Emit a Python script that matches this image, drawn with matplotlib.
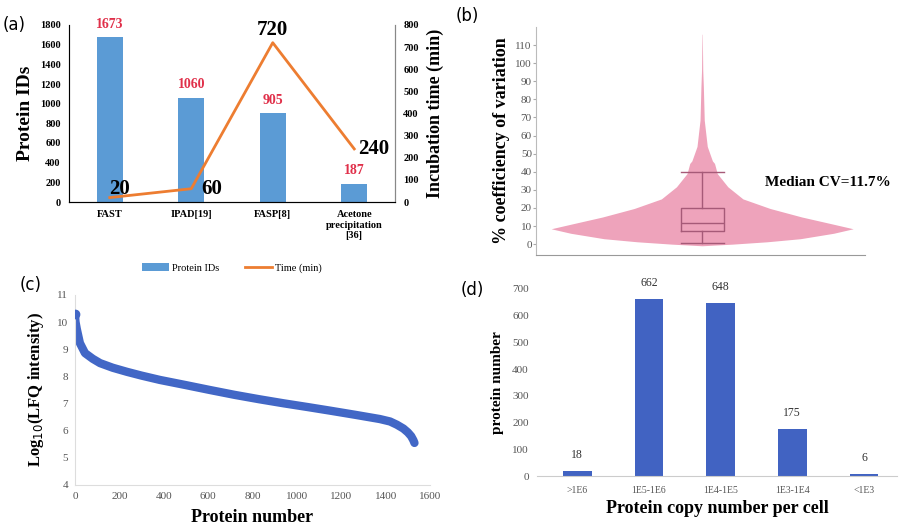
import numpy as np
from matplotlib import pyplot as plt

plt.rcParams['font.family'] = ['Liberation Serif', 'DejaVu Serif']

# (a) sample preparation methods
methods = ['FAST', 'IPAD[19]', 'FASP[8]', 'Acetone\nprecipitation\n[36]']
protein_ids = [1673, 1060, 905, 187]
incubation_min = [20, 60, 720, 240]

# (b) CV violin: density profile (relative half-width)
cv_levels = [-0.9, 0, 1.3, 3, 6, 8.5, 11, 15, 19.7, 25, 31.7, 39, 44.6, 46, 54, 68.5, 87, 96, 116]
cv_density = [0, 0.2, 0.43, 0.65, 0.87, 1.0, 0.87, 0.66, 0.45, 0.27, 0.17, 0.10, 0.082,
              0.068, 0.034, 0.014, 0.008, 0.004, 0.001]
cv_box = dict(q1=7, med=11.7, q3=20, whislo=0.5, whishi=40)

# (c) ranked LFQ intensities
rank = [0, 2, 8, 22, 45, 80, 113, 170, 234, 300, 383, 500, 608, 720, 830, 940, 1050,
        1149, 1260, 1374, 1420, 1451, 1480, 1500, 1515, 1525, 1530]
log_lfq = [10.30, 10.02, 9.75, 9.23, 8.86, 8.65, 8.49, 8.32, 8.17, 8.03, 7.87, 7.68, 7.50,
           7.32, 7.16, 7.01, 6.87, 6.74, 6.59, 6.43, 6.34, 6.22, 6.08, 5.94, 5.80, 5.65, 5.55]

# (d) copy number bins
copy_bins = ['>1E6', '1E5-1E6', '1E4-1E5', '1E3-1E4', '<1E3']
copy_counts = [18, 662, 648, 175, 6]

W, H = 904, 529
fig = plt.figure(figsize=(W / 100, H / 100), dpi=100)

bar_blue = '#5b9bd5'
line_orange = '#ed7d31'
grey = '#555555'

# ---------- (a) ----------
ax = fig.add_axes([69 / W, 1 - 202 / H, 326 / W, 177 / H])
x = np.arange(len(methods))
ax.bar(x, protein_ids, width=0.32, color=bar_blue, label='Protein IDs', zorder=2)
for xi, v in zip(x, protein_ids):
    ax.annotate(str(v), (xi, v), xytext=(0, 13), textcoords='offset pixels',
                ha='center', va='center', color='#e0304a', fontsize=10, fontweight='bold')
ax.set_xlim(-0.5, 3.5)
ax.set_ylim(0, 1800)
ax.set_yticks(range(0, 1801, 200))
ax.set_xticks(x)
ax.set_xticklabels(methods, fontsize=7.5, fontweight='bold', linespacing=1.2)
ax.tick_params(axis='y', labelsize=7.5, length=0, pad=6)
ax.tick_params(axis='x', length=0, pad=6)
for lab in ax.get_yticklabels():
    lab.set_fontweight('bold')
ax.set_ylabel('Protein IDs', fontsize=14, fontweight='bold', labelpad=4)
ax.spines['top'].set_visible(False)
for s in ['left', 'right']:
    ax.spines[s].set_color('#888888')
ax.spines['bottom'].set_color('#444444')

ax2 = ax.twinx()
ax2.plot(x, incubation_min, color=line_orange, lw=2, label='Time (min)', zorder=3)
ax2.set_ylim(0, 800)
ax2.set_yticks(range(0, 801, 100))
ax2.tick_params(axis='y', labelsize=7.5, length=0, pad=6)
for lab in ax2.get_yticklabels():
    lab.set_fontweight('bold')
ax2.set_ylabel('Incubation time (min)', fontsize=13, fontweight='bold', labelpad=6)
ax2.spines['top'].set_visible(False)
ax2.spines['right'].set_color('#888888')
line_offsets = [(10, 9, 'center'), (10, 0, 'left'), (0, 13, 'center'), (4, 0, 'left')]
for xi, v, (dx, dy, ha) in zip(x, incubation_min, line_offsets):
    ax2.annotate(str(v), (xi, v), xytext=(dx, dy), textcoords='offset pixels',
                 ha=ha, va='center', fontsize=15, fontweight='bold', color='black')

h1, l1 = ax.get_legend_handles_labels()
h2, l2 = ax2.get_legend_handles_labels()
fig.legend(h1 + h2, l1 + l2, loc='center', bbox_to_anchor=(232 / W, 1 - 268 / H),
           ncol=2, frameon=False, fontsize=7.5, handlelength=2.6, columnspacing=2.5,
           handletextpad=0.3)
fig.text(3 / W, 1 - 25 / H, '(a)', fontsize=12, family='DejaVu Sans', va='center')

# ---------- (b) ----------
axb = fig.add_axes([536 / W, 1 - 255 / H, 329 / W, 228 / H])
hw = np.array(cv_density) * 0.459
axb.fill_betweenx(cv_levels, -hw, hw, color='#eea3bb', lw=0, zorder=1)
axb.bxp([dict(cv_box, fliers=[])], positions=[0], widths=0.13, capwidths=0.13,
        showfliers=False, patch_artist=False,
        boxprops=dict(color='#a65a78', lw=1),
        medianprops=dict(color='#a65a78', lw=1),
        whiskerprops=dict(color='#a65a78', lw=1),
        capprops=dict(color='#a65a78', lw=1), zorder=3)
axb.set_xlim(-0.505, 0.495)
axb.set_ylim(-6, 120)
axb.set_yticks(range(0, 111, 10))
axb.set_xticks([])
axb.tick_params(axis='y', labelsize=8, labelcolor=grey, length=2, color='#aaaaaa', pad=1)
for s in ['top', 'right']:
    axb.spines[s].set_visible(False)
axb.spines['left'].set_color('#bbbbbb')
axb.spines['bottom'].set_color('#999999')
axb.set_ylabel('% coefficiency of variation', fontsize=13, fontweight='bold', labelpad=4)
axb.text(0.19, 34, 'Median CV=11.7%', fontsize=11, fontweight='bold',
         va='center', ha='left')
fig.text(456 / W, 1 - 16 / H, '(b)', fontsize=12, family='DejaVu Sans', va='center')

# ---------- (c) ----------
axc = fig.add_axes([75 / W, 1 - 485 / H, 355 / W, 190 / H])
axc.plot(rank, log_lfq, color='#4267c6', lw=6, solid_capstyle='round',
         solid_joinstyle='round', zorder=2)
axc.plot(rank[0], log_lfq[0], 'o', color='#4267c6', ms=6, zorder=3)
axc.set_xlim(0, 1600)
axc.set_ylim(4, 11)
axc.set_xticks(range(0, 1601, 200))
axc.set_yticks(range(4, 12))
axc.tick_params(labelsize=8, labelcolor=grey, length=0, pad=5)
for s in ['top', 'right']:
    axc.spines[s].set_visible(False)
axc.spines['left'].set_color('#dddddd')
axc.spines['bottom'].set_color('#dddddd')
axc.set_ylabel('Log$_{10}$(LFQ intensity)', fontsize=12, fontweight='bold', labelpad=8)
axc.set_xlabel('Protein number', fontsize=13, fontweight='bold', labelpad=6)
fig.text(20 / W, 1 - 285 / H, '(c)', fontsize=12, family='DejaVu Sans', va='center')

# ---------- (d) ----------
axd = fig.add_axes([537 / W, 1 - 476 / H, 360 / W, 187 / H])
xd = np.arange(len(copy_bins))
axd.bar(xd, copy_counts, width=0.4, color='#4163c2', zorder=2)
for xi, v in zip(xd, copy_counts):
    axd.annotate(str(v), (xi, v), xytext=(0, 16), textcoords='offset pixels',
                 ha='center', va='center', fontsize=8.5, color='#333333')
axd.set_xlim(-0.56, 4.46)
axd.set_ylim(0, 700)
axd.set_yticks(range(0, 701, 100))
axd.set_xticks(xd)
axd.set_xticklabels(copy_bins)
axd.tick_params(axis='y', labelsize=8, labelcolor=grey, length=0, pad=6)
axd.tick_params(axis='x', labelsize=7, labelcolor=grey, length=0, pad=7)
for s in ['top', 'right', 'left']:
    axd.spines[s].set_visible(False)
axd.spines['bottom'].set_color('#cccccc')
axd.set_ylabel('protein number', fontsize=11, fontweight='bold', labelpad=6)
axd.set_xlabel('Protein copy number per cell', fontsize=13, fontweight='bold', labelpad=4)
fig.text(461 / W, 1 - 290 / H, '(d)', fontsize=12, family='DejaVu Sans', va='center')

fig.savefig('out.png', dpi=100)
